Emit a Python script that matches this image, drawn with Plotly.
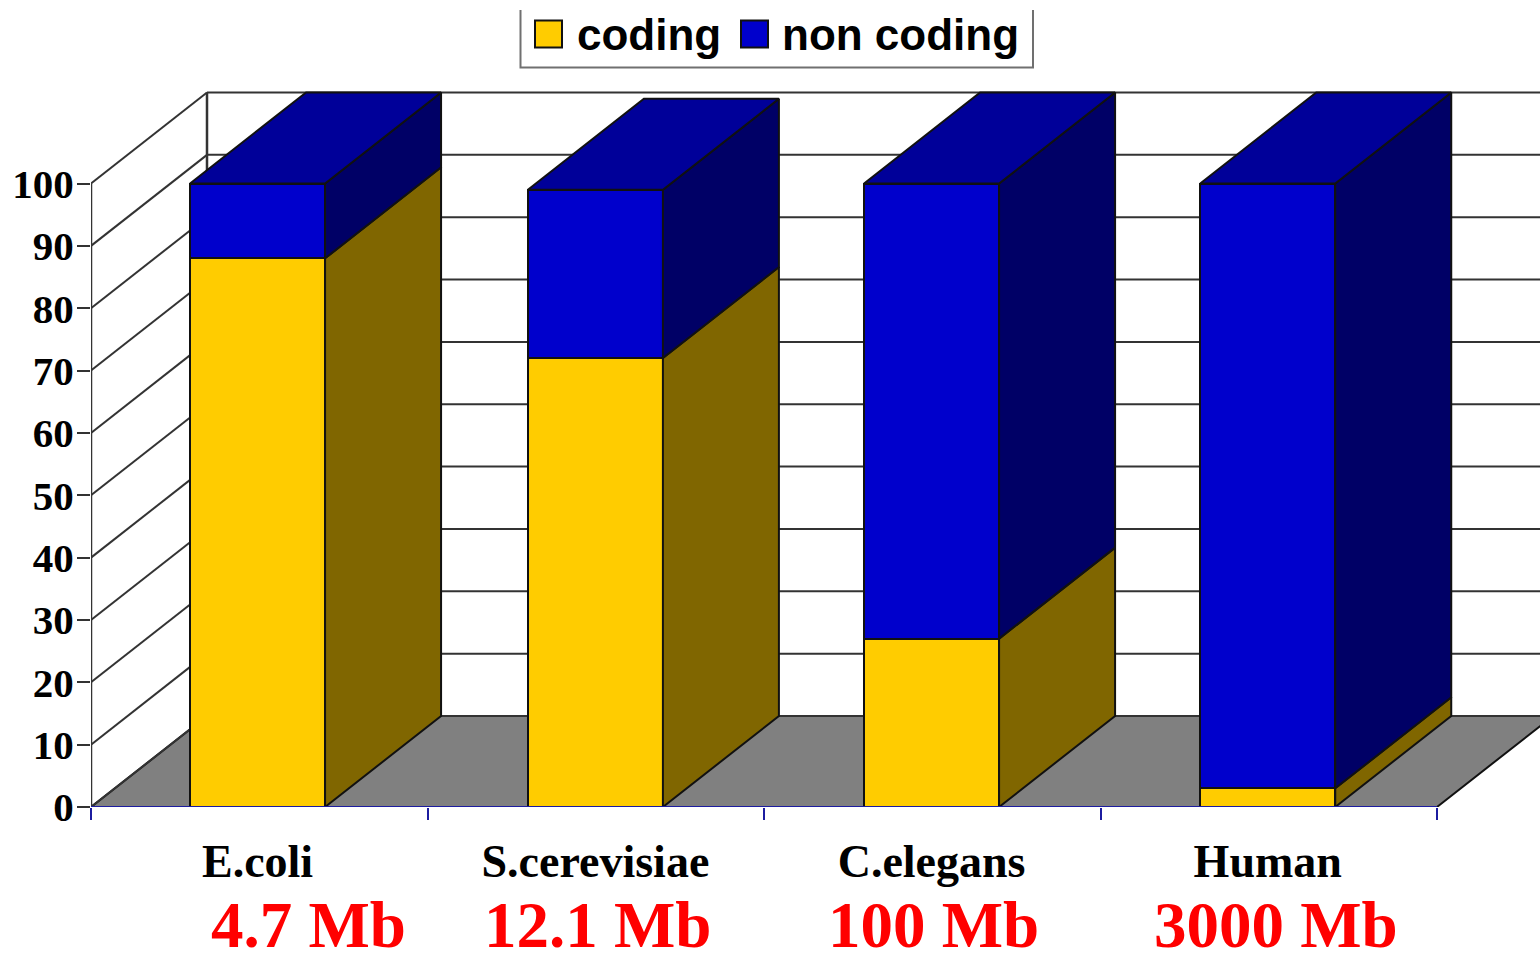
import plotly.graph_objects as go

species = ["E.coli", "S.cerevisiae", "C.elegans", "Human"]
coding = [88, 72, 27, 3]
non_coding = [12, 27, 73, 97]
bar_positions = [0.495, 1.499, 2.498, 3.497]
axis_boundaries = [0, 1, 2, 3, 4]
genome_sizes = ["4.7 Mb", "12.1 Mb", "100 Mb", "3000 Mb"]
y_ticks = list(range(0, 101, 10))

YELLOW, YELLOW_SIDE = "#FFCC00", "#806600"
BLUE, BLUE_SIDE, BLUE_TOP = "#0000CC", "#000066", "#000099"
FLOOR = "#808080"
EDGE = "#111111"
GRID = "#333333"
AXIS_BLUE = "#1C1CA0"
SERIF = "Liberation Serif"
SANS = "Liberation Sans"

W, H = 1540, 953
LEFT, BASE = 91, 807
PX_X = 336.5          # px per category
PX_Y = 6.235          # px per percent
DX = 116 / PX_X       # oblique depth in category units
DY = 91 / PX_Y        # oblique depth in percent units
BAR_W = 135 / PX_X
n = len(species)
x_max = (W - LEFT) / PX_X
y_max = BASE / PX_Y


def px(x_px, y_px):
    """Figure pixels to data units, for the furniture around the plot."""
    return (x_px - LEFT) / PX_X, (BASE - y_px) / PX_Y


fig = go.Figure()

# Front faces
fig.add_bar(x=bar_positions, y=coding, width=BAR_W, name="coding", showlegend=False,
            marker=dict(color=YELLOW, line=dict(color=EDGE, width=2)))
fig.add_bar(x=bar_positions, y=non_coding, width=BAR_W, name="non coding", showlegend=False,
            marker=dict(color=BLUE, line=dict(color=EDGE, width=2)))


def face(xs, ys, color):
    fig.add_scatter(x=xs, y=ys, mode="lines", fill="toself", fillcolor=color,
                    line=dict(color=EDGE, width=2), showlegend=False, hoverinfo="skip")


# Side and top faces derived from the values
for c, a, b in zip(bar_positions, coding, non_coding):
    r = c + BAR_W / 2
    l = c - BAR_W / 2
    t = a + b
    face([r, r + DX, r + DX, r, r], [0, DY, a + DY, a, 0], YELLOW_SIDE)
    face([r, r + DX, r + DX, r, r], [a, a + DY, t + DY, t, a], BLUE_SIDE)
    face([l, l + DX, r + DX, r, l], [t, t + DY, t + DY, t, t], BLUE_TOP)

# Chart furniture behind the bars
shapes = []
shapes.append(dict(type="path", layer="below", xref="x", yref="y",
                   path=f"M0,0 L{DX},{DY} L{n + DX},{DY} L{n},0 Z",
                   fillcolor=FLOOR, line=dict(color=EDGE, width=2)))
for v in y_ticks:
    shapes.append(dict(type="line", layer="below", xref="x", yref="y",
                       x0=0, y0=v, x1=DX, y1=v + DY, line=dict(color=GRID, width=2)))
    shapes.append(dict(type="line", layer="below", xref="x", yref="y",
                       x0=DX, y0=v + DY, x1=n + DX, y1=v + DY, line=dict(color=GRID, width=2)))
shapes.append(dict(type="line", layer="below", xref="x", yref="y",
                   x0=DX, y0=DY, x1=DX, y1=100 + DY, line=dict(color=GRID, width=2.5)))
shapes.append(dict(type="line", layer="below", xref="x", yref="y",
                   x0=0, y0=0, x1=0, y1=100, line=dict(color=GRID, width=2.5)))
shapes.append(dict(type="line", layer="above", xref="x", yref="y",
                   x0=0, y0=0, x1=n, y1=0, line=dict(color=AXIS_BLUE, width=2)))

# Legend box, open at the top
bx0, by0 = px(520.5, 10)
bx1, by1 = px(1033, 67.5)
shapes.append(dict(type="path", layer="below", xref="x", yref="y",
                   path=f"M{bx0},{by0} L{bx0},{by1} L{bx1},{by1} L{bx1},{by0}",
                   line=dict(color="#707070", width=2)))

# Legend swatches
for name, color, sx in [("coding", YELLOW, 548.5), ("non coding", BLUE, 754.5)]:
    mx, my = px(sx, 34)
    fig.add_scatter(x=[mx], y=[my], mode="markers", showlegend=False, name=name, hoverinfo="skip",
                    marker=dict(symbol="square", size=27, color=color, line=dict(color=EDGE, width=2)))

annotations = []
for text, tx in [("coding", 575), ("non coding", 780)]:
    ax, ay = px(tx, 34)
    annotations.append(dict(x=ax, y=ay, xref="x", yref="y", text=text, showarrow=False,
                            xanchor="left", yanchor="middle",
                            font=dict(family=SANS, size=44, color="black", weight=700)))

# Genome sizes in red
for label, cx, shift in zip(genome_sizes, bar_positions, [51, 3, 2, 8]):
    annotations.append(dict(x=cx, y=0, xref="x", yref="y", text=label, showarrow=False,
                            xshift=shift, yshift=-118, xanchor="center", yanchor="middle",
                            font=dict(family=SERIF, size=65, color="#FF0000", weight=700)))

fig.update_layout(
    width=W, height=H, autosize=False,
    margin=dict(l=LEFT, r=0, t=0, b=H - BASE, pad=0),
    paper_bgcolor="white", plot_bgcolor="white",
    barmode="stack", showlegend=False,
    shapes=shapes, annotations=annotations,
    xaxis=dict(range=[0, x_max], tickmode="array", tickvals=bar_positions, ticktext=species,
               showgrid=False, zeroline=False, showline=False, ticks="",
               ticklabelstandoff=23,
               tickfont=dict(family=SERIF, size=46, color="black", weight=700),
               minor=dict(tickmode="array", tickvals=axis_boundaries, ticks="outside",
                          ticklen=12, tickwidth=2, tickcolor=AXIS_BLUE, showgrid=False)),
    yaxis=dict(range=[0, y_max], tickmode="array", tickvals=y_ticks,
               showgrid=False, zeroline=False, showline=False, ticks="outside",
               ticklen=13, tickwidth=2, tickcolor=GRID, ticklabelstandoff=-5,
               tickfont=dict(family=SERIF, size=41, color="black", weight=700)),
)

fig.write_html("out.html", config=dict(displayModeBar=False),
               post_script="document.body.style.margin='0';")
